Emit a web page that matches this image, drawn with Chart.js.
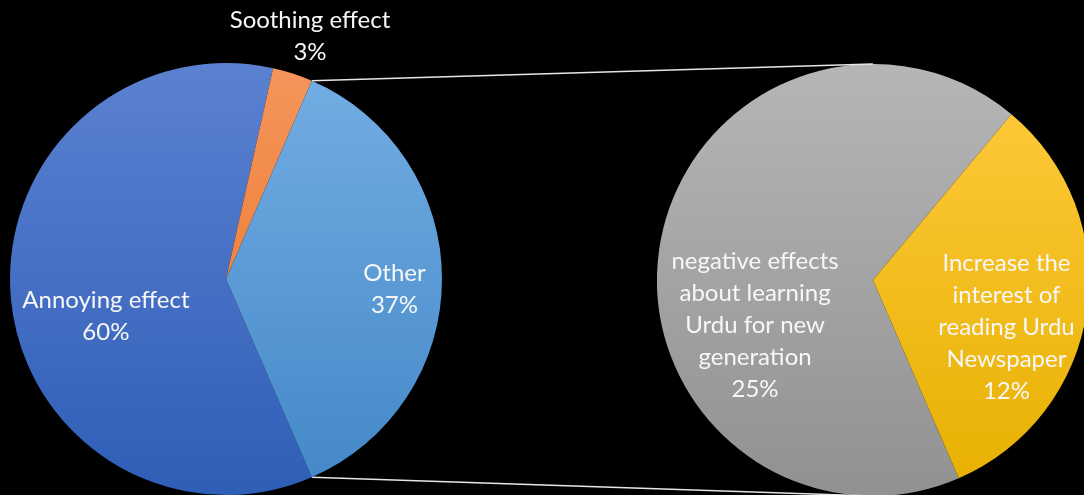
<!DOCTYPE html>
<html>
<head>
<meta charset="utf-8">
<script src="https://cdn.jsdelivr.net/npm/chart.js@4"></script>
<style>
  html, body { margin: 0; padding: 0; background: #000; overflow: hidden; width: 1084px; height: 495px; }
  #main { position: absolute; left: 0; top: 0; width: 1084px; height: 495px; }
  #detail { position: absolute; left: 657px; top: 64px; width: 432px; height: 432px; }
</style>
</head>
<body>
<div id="detail"><canvas id="detailChart"></canvas></div>
<div id="main"><canvas id="mainChart"></canvas></div>
<script>
// Main pie: share of each effect (percent)
const mainCategories = [['Annoying effect'], ['Soothing effect'], ['Other']];
const mainValues = [60, 3, 37];

// Breakdown of "Other" (percent of all answers)
const detailCategories = [
  ['negative effects', 'about learning', 'Urdu for new', 'generation'],
  ['Increase the', 'interest of', 'reading Urdu', 'Newspaper']
];
const detailValues = [25, 12];

// Index of the slice that is broken out into the second pie
const splitIndex = 2;

// Vertical shading per slice: [top colour, bottom colour]
const mainShades = [['#5b81d1', '#2f5eb7'], ['#f5955c', '#e9711f'], ['#74aee4', '#4287c7']];
const detailShades = [['#b6b6b6', '#919191'], ['#ffcb3e', '#e7b000']];

// Label anchor relative to pie centre, in units of the radius
const mainLabelAnchor = [[-0.556, 0.171], [0.389, -1.125], [0.780, 0.049]];
const detailLabelAnchor = [[-0.546, 0.211], [0.618, 0.218]];

const FONT = '24px Lato, "Noto Sans", sans-serif';
const LINE_H = 32;

function shade(stopsList) {
  return (ctx) => {
    const stops = stopsList[ctx.dataIndex] || stopsList[0];
    const chart = ctx.chart;
    const area = chart.chartArea;
    if (!area) return stops[0];
    const g = chart.ctx.createLinearGradient(0, area.top, 0, area.bottom);
    g.addColorStop(0, stops[0]);
    g.addColorStop(1, stops[1]);
    return g;
  };
}

function labelPlugin(categories, anchors) {
  return {
    id: 'sliceLabels',
    afterDatasetsDraw(chart) {
      const meta = chart.getDatasetMeta(0);
      const values = chart.data.datasets[0].data;
      const c = chart.ctx;
      c.save();
      c.font = FONT;
      c.fillStyle = '#f7f7f7';
      c.textAlign = 'center';
      c.textBaseline = 'middle';
      meta.data.forEach((arc, i) => {
        const lines = categories[i].concat([values[i] + '%']);
        const cx = arc.x + anchors[i][0] * arc.outerRadius;
        const cy = arc.y + anchors[i][1] * arc.outerRadius;
        const y0 = cy - (lines.length - 1) * LINE_H / 2;
        lines.forEach((t, k) => c.fillText(t, cx, y0 + k * LINE_H));
      });
      c.restore();
    }
  };
}

// Both pies start where the broken-out slice ends
const mainTotal = mainValues.reduce((a, b) => a + b, 0);
const startAngle = 90 + 180 * mainValues[splitIndex] / mainTotal;

const detailChart = new Chart(document.getElementById('detailChart'), {
  type: 'pie',
  data: {
    labels: detailCategories.map(l => l.join(' ')),
    datasets: [{
      data: detailValues,
      backgroundColor: shade(detailShades),
      borderWidth: 0
    }]
  },
  options: {
    responsive: true,
    maintainAspectRatio: false,
    animation: false,
    rotation: startAngle,
    layout: { padding: 0 },
    plugins: { legend: { display: false }, tooltip: { enabled: false } }
  },
  plugins: [labelPlugin(detailCategories, detailLabelAnchor)]
});

// Connector lines from the split slice's edges to the top and bottom of the second pie
const connectorPlugin = {
  id: 'connectors',
  beforeDatasetsDraw(chart) {
    const arc = chart.getDatasetMeta(0).data[splitIndex];
    const darc = detailChart.getDatasetMeta(0).data[0];
    if (!arc || !darc) return;
    const r1 = chart.canvas.getBoundingClientRect();
    const r2 = detailChart.canvas.getBoundingClientRect();
    const ox = r2.left - r1.left, oy = r2.top - r1.top;
    const p1 = [arc.x + arc.outerRadius * Math.cos(arc.startAngle), arc.y + arc.outerRadius * Math.sin(arc.startAngle)];
    const p2 = [arc.x + arc.outerRadius * Math.cos(arc.endAngle), arc.y + arc.outerRadius * Math.sin(arc.endAngle)];
    const q1 = [ox + darc.x, oy + darc.y - darc.outerRadius];
    const q2 = [ox + darc.x, oy + darc.y + darc.outerRadius];
    const c = chart.ctx;
    c.save();
    c.strokeStyle = '#e6e6e6';
    c.lineWidth = 1.5;
    c.beginPath();
    c.moveTo(p1[0], p1[1]); c.lineTo(q1[0], q1[1]);
    c.moveTo(p2[0], p2[1]); c.lineTo(q2[0], q2[1]);
    c.stroke();
    c.restore();
  }
};

new Chart(document.getElementById('mainChart'), {
  type: 'pie',
  data: {
    labels: mainCategories.map(l => l.join(' ')),
    datasets: [{
      data: mainValues,
      backgroundColor: shade(mainShades),
      borderWidth: 0
    }]
  },
  options: {
    responsive: true,
    maintainAspectRatio: false,
    animation: false,
    rotation: startAngle,
    layout: { padding: { left: 10, top: 63, right: 642, bottom: 0 } },
    plugins: { legend: { display: false }, tooltip: { enabled: false } }
  },
  plugins: [connectorPlugin, labelPlugin(mainCategories, mainLabelAnchor)]
});
</script>
</body>
</html>
